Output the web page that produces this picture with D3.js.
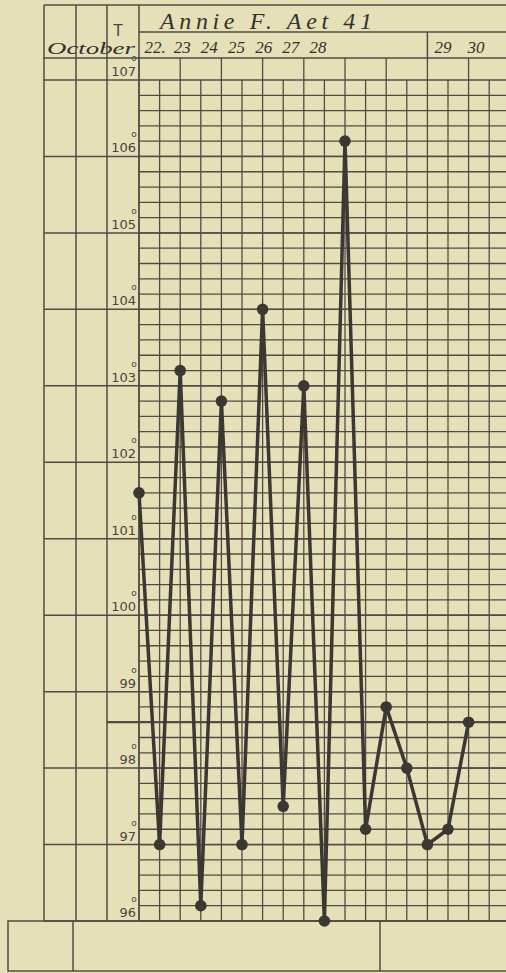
<!DOCTYPE html>
<html>
<head>
<meta charset="utf-8">
<script src="https://cdn.jsdelivr.net/npm/d3@7"></script>
<style>
  body { margin: 0; background: #e4e1b9; }
  svg { display: block; }
</style>
</head>
<body>
<div id="chart"></div>
<script>
'use strict';

// chart values
const patient = 'Annie F.  Aet 41';
const month = 'October';
const dayLabels = ['22.', '23', '24', '25', '26', '27', '28', '29', '30'];
// one reading per half day (morning, evening) starting 22 morning
const temps = [101.6, 97.0, 103.2, 96.2, 102.8, 97.0, 104.0, 97.5, 103.0,
               96.0, 106.2, 97.2, 98.8, 98.0, 97.0, 97.2, 98.6];
const degreeTicks = [107, 106, 105, 104, 103, 102, 101, 100, 99, 98, 97, 96];
const normalTemp = 98.6;

const W = 506, H = 973;
const ink = '#554a43';
const pen = '#3b3833';

let svg = d3.select('#chart').append('svg')
    .attr('width', W)
    .attr('height', H);

svg.append('rect').attr('width', W).attr('height', H).attr('fill', '#e4e1b9');

// half day columns, 9 days -> 18 columns
let x = d3.scaleLinear().domain([0, 18]).range([139, 139 + 18 * 20.6]);
let y = d3.scaleLinear().domain([96, 107]).range([921, 80]);

let g = svg.append('g').attr('stroke', ink).attr('stroke-width', 1.3).attr('fill', 'none');

function hline(x1, x2, yy, w) {
    g.append('line').attr('x1', x1).attr('x2', x2).attr('y1', yy).attr('y2', yy)
        .attr('stroke-width', w || 1.3);
}
function vline(xx, y1, y2, w) {
    g.append('line').attr('x1', xx).attr('x2', xx).attr('y1', y1).attr('y2', y2)
        .attr('stroke-width', w || 1.3);
}

// minor temperature lines every 0.2 degree
let minor = d3.range(0, 55).map(function (i) { return 96 + i * 0.2; });
g.selectAll('line.minor').data(minor).enter().append('line')
    .attr('class', 'minor')
    .attr('x1', x(0)).attr('x2', W)
    .attr('y1', function (d) { return y(d); })
    .attr('y2', function (d) { return y(d); });

// degree lines run across the left columns too
g.selectAll('line.major').data(degreeTicks).enter().append('line')
    .attr('class', 'major')
    .attr('x1', 44).attr('x2', W)
    .attr('y1', function (d) { return y(d); })
    .attr('y2', function (d) { return y(d); })
    .attr('stroke-width', 1.5);

// normal temperature line
hline(107, W, y(normalTemp), 2.2);

// half day verticals in the grid
g.selectAll('line.col').data(d3.range(0, 19)).enter().append('line')
    .attr('class', 'col')
    .attr('x1', function (d) { return x(d); })
    .attr('x2', function (d) { return x(d); })
    .attr('y1', function (d) { return d % 2 === 0 ? 58 : y(107); })
    .attr('y2', y(96));

// frame: left columns, header lines
[44, 76, 107].forEach(function (xx) { vline(xx, 5, y(96), 1.5); });
vline(x(0), 5, y(96), 1.5);
hline(44, W, 5, 1.5);
hline(x(0), W, 32, 1.3);
hline(44, W, 58, 1.5);
vline(x(14), 32, 58, 1.5);

// bottom box
g.append('rect').attr('x', 8).attr('y', y(96)).attr('width', W + 10).attr('height', 50)
    .attr('stroke-width', 1.5);
vline(73, y(96), y(96) + 50, 1.5);
vline(x(11.7), y(96), y(96) + 50, 1.5);

// printed labels
let labels = svg.append('g').attr('fill', '#4a4540')
    .style('font-family', '"DejaVu Sans", sans-serif');

labels.selectAll('text.deg').data(degreeTicks).enter().append('text')
    .attr('class', 'deg')
    .attr('x', 136)
    .attr('y', function (d) { return y(d) - 4; })
    .attr('text-anchor', 'end')
    .style('font-size', '13px')
    .text(function (d) { return d; });

labels.selectAll('text.degsym').data(degreeTicks).enter().append('text')
    .attr('class', 'degsym')
    .attr('x', 134)
    .attr('y', function (d) { return y(d) - 19; })
    .attr('text-anchor', 'middle')
    .style('font-size', '9px')
    .text('o');

labels.append('text')
    .attr('x', 118).attr('y', 36)
    .attr('text-anchor', 'middle')
    .style('font-size', '15px')
    .text('T');

// handwritten header
let hand = svg.append('g').attr('fill', '#35302b')
    .style('font-family', '"Liberation Serif", serif')
    .style('font-style', 'italic');

hand.append('text')
    .attr('x', 160).attr('y', 29)
    .attr('textLength', 212).attr('lengthAdjust', 'spacing')
    .style('font-size', '24px')
    .text(patient);

hand.append('text')
    .attr('x', 47).attr('y', 54)
    .attr('textLength', 88).attr('lengthAdjust', 'spacingAndGlyphs')
    .style('font-size', '17px')
    .text(month);

let dFirst = d3.scalePoint().domain(dayLabels.slice(0, 7)).range([155, 318]);
let dLast = d3.scalePoint().domain(dayLabels.slice(7)).range([443, 476]);

hand.selectAll('text.day').data(dayLabels).enter().append('text')
    .attr('class', 'day')
    .attr('x', function (d, i) { return i < 7 ? dFirst(d) : dLast(d); })
    .attr('y', 53)
    .attr('text-anchor', 'middle')
    .style('font-size', '17px')
    .text(function (d) { return d; });

// temperature curve
let line = d3.line()
    .x(function (d, i) { return x(i); })
    .y(function (d) { return y(d); });

svg.append('path').datum(temps)
    .attr('d', line)
    .attr('fill', 'none')
    .attr('stroke', pen)
    .attr('stroke-width', 3.5)
    .attr('stroke-linejoin', 'round');

svg.selectAll('circle.pt').data(temps).enter().append('circle')
    .attr('class', 'pt')
    .attr('cx', function (d, i) { return x(i); })
    .attr('cy', function (d) { return y(d); })
    .attr('r', 5.8)
    .attr('fill', pen);
</script>
</body>
</html>
